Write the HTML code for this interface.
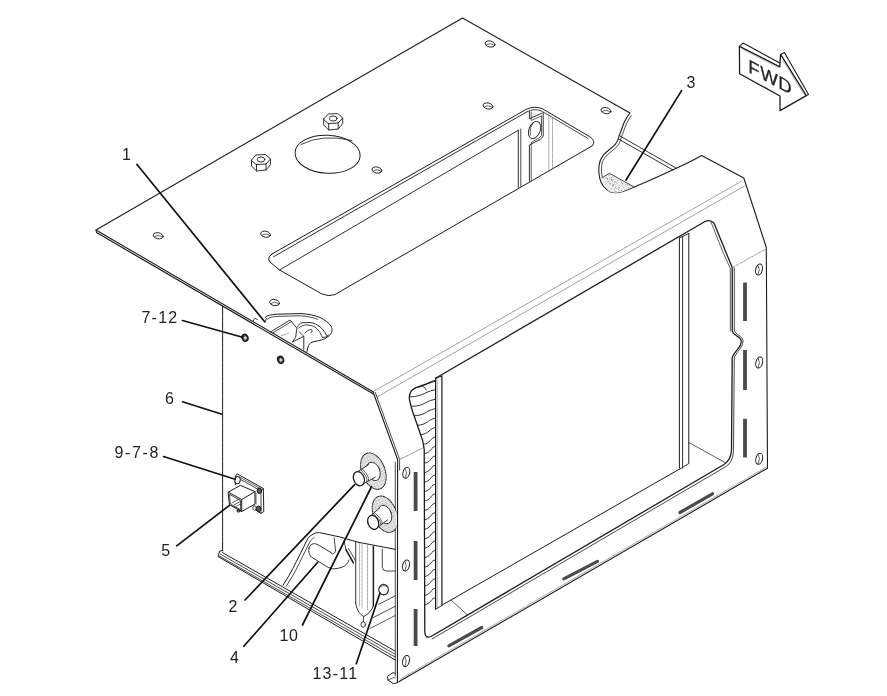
<!DOCTYPE html>
<html><head><meta charset="utf-8"><title>Parts diagram</title>
<style>
html,body{margin:0;padding:0;background:#fff;}
body{width:887px;height:696px;overflow:hidden;}
svg{display:block;filter:grayscale(1);}
svg text{font-family:"Liberation Sans",sans-serif;fill:#222;}
svg path,svg ellipse{stroke-linecap:round;stroke-linejoin:round;}
</style></head><body>
<svg width="887" height="696" viewBox="0 0 887 696">
<rect width="887" height="696" fill="#fff"/>
<path d="M373,391.7 L96,230 L462.5,18 L630,113 C627,117 625.5,119.5 624.2,122.2 C622,128 620.5,132 619,136.3 C618,140 617,142.5 615.3,144.4 C612,148 607,151 603.5,154.8 C601,158 599.5,161 599.1,165.1 C598.5,170 598.8,174 599.8,178.4 C601,184 605,189 610.2,191.8" stroke="#1c1c1c" stroke-width="1.1" fill="#fff" />
<path d="M96.5,232.5 L373.5,394.1" stroke="#1c1c1c" stroke-width="1.2" fill="none" />
<path d="M96.0,230.0 L96.5,232.5" stroke="#1c1c1c" stroke-width="1.0" fill="none" />
<path d="M631.3,115.5 C629,119 627.5,121.5 626.3,124 C624.3,129.5 622.8,133.5 621.3,137.5 C620.3,141 619.3,143.8 617.5,146 C614.5,149.5 609.5,152.5 606,156.2 C603.5,159 602,162 601.7,165.6 C601.2,170 601.5,173.5 602.3,177" stroke="#1c1c1c" stroke-width="0.8" fill="none" />
<ellipse cx="158.2" cy="235.8" rx="5.0" ry="3.0" transform="rotate(12 158.2 235.8)" stroke="#1c1c1c" stroke-width="0.9" fill="none"/>
<path d="M154.39999999999998,236.8 Q158.2,234.0 162.39999999999998,237.20000000000002" stroke="#1c1c1c" stroke-width="0.7" fill="none" />
<ellipse cx="265.6" cy="234.2" rx="5.0" ry="3.0" transform="rotate(12 265.6 234.2)" stroke="#1c1c1c" stroke-width="0.9" fill="none"/>
<path d="M261.8,235.2 Q265.6,232.39999999999998 269.8,235.6" stroke="#1c1c1c" stroke-width="0.7" fill="none" />
<ellipse cx="274.6" cy="302.6" rx="5.0" ry="3.0" transform="rotate(12 274.6 302.6)" stroke="#1c1c1c" stroke-width="0.9" fill="none"/>
<path d="M270.8,303.6 Q274.6,300.8 278.8,304.0" stroke="#1c1c1c" stroke-width="0.7" fill="none" />
<ellipse cx="376.9" cy="170" rx="5.0" ry="3.0" transform="rotate(12 376.9 170)" stroke="#1c1c1c" stroke-width="0.9" fill="none"/>
<path d="M373.09999999999997,171.0 Q376.9,168.2 381.09999999999997,171.4" stroke="#1c1c1c" stroke-width="0.7" fill="none" />
<ellipse cx="488" cy="106" rx="5.0" ry="3.0" transform="rotate(12 488 106)" stroke="#1c1c1c" stroke-width="0.9" fill="none"/>
<path d="M484.2,107.0 Q488,104.2 492.2,107.4" stroke="#1c1c1c" stroke-width="0.7" fill="none" />
<ellipse cx="490" cy="44" rx="5.0" ry="3.0" transform="rotate(12 490 44)" stroke="#1c1c1c" stroke-width="0.9" fill="none"/>
<path d="M486.2,45.0 Q490,42.2 494.2,45.4" stroke="#1c1c1c" stroke-width="0.7" fill="none" />
<ellipse cx="606" cy="110.6" rx="5.0" ry="3.0" transform="rotate(12 606 110.6)" stroke="#1c1c1c" stroke-width="0.9" fill="none"/>
<path d="M602.2,111.6 Q606,108.8 610.2,112.0" stroke="#1c1c1c" stroke-width="0.7" fill="none" />
<ellipse cx="327.6" cy="154.3" rx="32.6" ry="19.0" transform="rotate(3 327.6 154.3)" stroke="#1c1c1c" stroke-width="1.0" fill="none"/>
<path d="M301,144.5 Q322,133.5 352,140.5" stroke="#1c1c1c" stroke-width="0.8" fill="none" />
<path d="M251.5,160.0 L256.0,155.0 L265.5,154.5 L270.5,159.0 L266.0,164.0 L256.5,164.5 Z" stroke="#1c1c1c" stroke-width="0.9" fill="#fff" />
<path d="M251.5,160.0 L251.5,166.0 L256.5,171.0 L266.0,170.0 L270.5,164.5 L270.5,159.0" stroke="#1c1c1c" stroke-width="0.9" fill="none" />
<path d="M256.5,164.5 L256.5,171.0" stroke="#1c1c1c" stroke-width="0.9" fill="none" />
<path d="M266.0,164.0 L266.0,170.0" stroke="#1c1c1c" stroke-width="0.9" fill="none" />
<ellipse cx="261" cy="159.5" rx="3.8" ry="2.6" transform="rotate(0 261 159.5)" stroke="#1c1c1c" stroke-width="0.9" fill="none"/>
<path d="M323.7,119.0 L328.2,114.0 L337.7,113.5 L342.7,118.0 L338.2,123.0 L328.7,123.5 Z" stroke="#1c1c1c" stroke-width="0.9" fill="#fff" />
<path d="M323.7,119.0 L323.7,125.0 L328.7,130.0 L338.2,129.0 L342.7,123.5 L342.7,118.0" stroke="#1c1c1c" stroke-width="0.9" fill="none" />
<path d="M328.7,123.5 L328.7,130.0" stroke="#1c1c1c" stroke-width="0.9" fill="none" />
<path d="M338.2,123.0 L338.2,129.0" stroke="#1c1c1c" stroke-width="0.9" fill="none" />
<ellipse cx="333.2" cy="118.5" rx="3.8" ry="2.6" transform="rotate(0 333.2 118.5)" stroke="#1c1c1c" stroke-width="0.9" fill="none"/>
<path d="M272,254 L526.5,109.2 Q534,105.5 542.5,108.8 L590,136.9 Q596.5,141.5 592,146 L335,294.5 Q329,297 322,294 L279.5,270 L270,262 Q266.5,258 272,254 Z" stroke="#1c1c1c" stroke-width="1.0" fill="none" />
<path d="M273.5,256.8 L527.0,111.8" stroke="#1c1c1c" stroke-width="0.9" fill="none" />
<path d="M527,111.8 Q534,108 541.5,111 L588,138.5" stroke="#1c1c1c" stroke-width="0.8" fill="none" />
<path d="M279.5,270.0 L518.3,130.2" stroke="#1c1c1c" stroke-width="0.9" fill="none" />
<path d="M518.3,130.2 L518.3,187.6" stroke="#1c1c1c" stroke-width="0.9" fill="none" />
<path d="M520.8,129.0 L520.8,186.2" stroke="#1c1c1c" stroke-width="0.8" fill="none" />
<path d="M529.4,111.5 L529.4,118.8 L541.9,113.2" stroke="#1c1c1c" stroke-width="0.9" fill="none" />
<path d="M531.2,112.0 L531.2,120.5 L541.5,116.0" stroke="#1c1c1c" stroke-width="0.7" fill="none" />
<path d="M543.2,112.5 L543.2,136.5 L540.0,139.5 L529.4,145.0 L529.4,181.3" stroke="#1c1c1c" stroke-width="0.9" fill="none" />
<path d="M541.5,116.0 L541.5,135.5 L539.0,138.0 L531.2,142.5 L531.2,180.2" stroke="#1c1c1c" stroke-width="0.7" fill="none" />
<ellipse cx="534.6" cy="130" rx="5.6" ry="9" transform="rotate(22 534.6 130)" stroke="#1c1c1c" stroke-width="0.9" fill="none"/>
<path d="M530.5,135 Q529,128 533,123" stroke="#1c1c1c" stroke-width="0.7" fill="none" />
<path d="M548.8,116.0 L548.8,171.0" stroke="#8a8a8a" stroke-width="0.7" fill="none" stroke-dasharray="2.5 1"/>
<path d="M552.5,118.0 L552.5,169.0" stroke="#8a8a8a" stroke-width="0.7" fill="none" stroke-dasharray="2.5 1"/>
<path d="M620.0,136.0 L676.0,168.0" stroke="#1c1c1c" stroke-width="0.9" fill="none" />
<path d="M618.5,139.0 L673.0,170.0" stroke="#1c1c1c" stroke-width="0.9" fill="none" />
<path d="M610.2,191.8 C614,193.2 618,193 622,191.8 C626,190.6 630,188.8 633.8,187.3 C648,181.5 662,175 676.8,168.1 C686,163.8 694,160 701.6,155.5 L743.8,178 L766.3,247.5 L767.5,468.2 L398.8,681.8" stroke="#1c1c1c" stroke-width="1.1" fill="none" />
<path d="M602,177.7 L609.4,173.3 L633.8,186.8 L622,191.8 Q616,193.4 610.2,192 Q604,188 602,177.7 Z" fill="#ededed" stroke="none"/>
<clipPath id="stc"><path d="M602.6,178.3 L609.4,174 L632.5,186.8 L622,191 Q616,192.6 610.6,191.2 Q605,188 602.6,178.3 Z"/></clipPath><g clip-path="url(#stc)">
<circle cx="609.4" cy="183.9" r="0.45" fill="#666"/>
<circle cx="613.5" cy="185.1" r="0.45" fill="#666"/>
<circle cx="621.4" cy="174.3" r="0.45" fill="#666"/>
<circle cx="602.4" cy="189.7" r="0.45" fill="#666"/>
<circle cx="610.0" cy="177.7" r="0.45" fill="#666"/>
<circle cx="632.9" cy="182.4" r="0.45" fill="#666"/>
<circle cx="627.9" cy="182.5" r="0.45" fill="#666"/>
<circle cx="621.8" cy="176.0" r="0.45" fill="#666"/>
<circle cx="621.7" cy="190.4" r="0.45" fill="#666"/>
<circle cx="618.2" cy="187.8" r="0.45" fill="#666"/>
<circle cx="622.8" cy="174.3" r="0.45" fill="#666"/>
<circle cx="625.5" cy="184.8" r="0.45" fill="#666"/>
<circle cx="611.3" cy="173.6" r="0.45" fill="#666"/>
<circle cx="628.8" cy="182.5" r="0.45" fill="#666"/>
<circle cx="624.3" cy="190.6" r="0.45" fill="#666"/>
<circle cx="624.1" cy="191.4" r="0.45" fill="#666"/>
<circle cx="614.2" cy="189.0" r="0.45" fill="#666"/>
<circle cx="615.8" cy="191.7" r="0.45" fill="#666"/>
<circle cx="629.2" cy="174.9" r="0.45" fill="#666"/>
<circle cx="606.2" cy="177.3" r="0.45" fill="#666"/>
<circle cx="631.9" cy="181.7" r="0.45" fill="#666"/>
<circle cx="621.4" cy="179.0" r="0.45" fill="#666"/>
<circle cx="617.7" cy="180.7" r="0.45" fill="#666"/>
<circle cx="612.9" cy="184.7" r="0.45" fill="#666"/>
<circle cx="620.1" cy="191.1" r="0.45" fill="#666"/>
<circle cx="623.1" cy="191.6" r="0.45" fill="#666"/>
<circle cx="628.5" cy="192.8" r="0.45" fill="#666"/>
<circle cx="622.8" cy="176.3" r="0.45" fill="#666"/>
<circle cx="628.7" cy="192.3" r="0.45" fill="#666"/>
<circle cx="630.0" cy="184.4" r="0.45" fill="#666"/>
<circle cx="624.1" cy="177.2" r="0.45" fill="#666"/>
<circle cx="627.8" cy="184.5" r="0.45" fill="#666"/>
<circle cx="610.8" cy="174.3" r="0.45" fill="#666"/>
<circle cx="628.5" cy="192.8" r="0.45" fill="#666"/>
<circle cx="604.7" cy="189.0" r="0.45" fill="#666"/>
<circle cx="614.7" cy="176.0" r="0.45" fill="#666"/>
<circle cx="611.1" cy="188.4" r="0.45" fill="#666"/>
<circle cx="629.1" cy="173.9" r="0.45" fill="#666"/>
<circle cx="621.1" cy="173.9" r="0.45" fill="#666"/>
<circle cx="624.3" cy="179.6" r="0.45" fill="#666"/>
<circle cx="629.3" cy="192.6" r="0.45" fill="#666"/>
<circle cx="617.7" cy="193.0" r="0.45" fill="#666"/>
<circle cx="611.6" cy="174.5" r="0.45" fill="#666"/>
<circle cx="620.6" cy="173.6" r="0.45" fill="#666"/>
<circle cx="608.1" cy="181.2" r="0.45" fill="#666"/>
<circle cx="620.9" cy="176.1" r="0.45" fill="#666"/>
<circle cx="603.3" cy="190.4" r="0.45" fill="#666"/>
<circle cx="611.7" cy="192.2" r="0.45" fill="#666"/>
<circle cx="629.8" cy="180.6" r="0.45" fill="#666"/>
<circle cx="616.3" cy="183.4" r="0.45" fill="#666"/>
<circle cx="622.0" cy="184.9" r="0.45" fill="#666"/>
<circle cx="619.3" cy="185.4" r="0.45" fill="#666"/>
<circle cx="631.2" cy="183.1" r="0.45" fill="#666"/>
<circle cx="615.4" cy="187.4" r="0.45" fill="#666"/>
<circle cx="609.4" cy="179.0" r="0.45" fill="#666"/>
<circle cx="632.3" cy="183.4" r="0.45" fill="#666"/>
<circle cx="619.0" cy="173.2" r="0.45" fill="#666"/>
<circle cx="614.9" cy="184.6" r="0.45" fill="#666"/>
<circle cx="602.6" cy="185.3" r="0.45" fill="#666"/>
<circle cx="621.6" cy="174.2" r="0.45" fill="#666"/>
<circle cx="621.4" cy="182.3" r="0.45" fill="#666"/>
<circle cx="623.1" cy="180.1" r="0.45" fill="#666"/>
<circle cx="623.9" cy="187.8" r="0.45" fill="#666"/>
<circle cx="602.7" cy="174.2" r="0.45" fill="#666"/>
<circle cx="623.0" cy="192.3" r="0.45" fill="#666"/>
<circle cx="609.8" cy="182.1" r="0.45" fill="#666"/>
<circle cx="620.4" cy="179.4" r="0.45" fill="#666"/>
<circle cx="613.3" cy="179.3" r="0.45" fill="#666"/>
<circle cx="613.4" cy="184.9" r="0.45" fill="#666"/>
<circle cx="611.3" cy="180.5" r="0.45" fill="#666"/>
<circle cx="625.9" cy="173.5" r="0.45" fill="#666"/>
<circle cx="619.6" cy="187.7" r="0.45" fill="#666"/>
<circle cx="611.6" cy="177.5" r="0.45" fill="#666"/>
<circle cx="626.9" cy="177.8" r="0.45" fill="#666"/>
<circle cx="607.8" cy="181.7" r="0.45" fill="#666"/>
<circle cx="623.6" cy="175.0" r="0.45" fill="#666"/>
<circle cx="612.0" cy="179.7" r="0.45" fill="#666"/>
<circle cx="627.8" cy="181.8" r="0.45" fill="#666"/>
<circle cx="628.5" cy="176.4" r="0.45" fill="#666"/>
<circle cx="612.4" cy="186.0" r="0.45" fill="#666"/>
<circle cx="629.4" cy="182.0" r="0.45" fill="#666"/>
<circle cx="609.0" cy="175.4" r="0.45" fill="#666"/>
<circle cx="618.4" cy="176.8" r="0.45" fill="#666"/>
<circle cx="627.0" cy="189.8" r="0.45" fill="#666"/>
<circle cx="607.7" cy="178.6" r="0.45" fill="#666"/>
<circle cx="627.0" cy="185.8" r="0.45" fill="#666"/>
<circle cx="627.0" cy="179.9" r="0.45" fill="#666"/>
<circle cx="606.0" cy="178.8" r="0.45" fill="#666"/>
<circle cx="626.6" cy="178.4" r="0.45" fill="#666"/>
<circle cx="612.7" cy="181.3" r="0.45" fill="#666"/>
<circle cx="615.0" cy="181.2" r="0.45" fill="#666"/>
<circle cx="630.5" cy="176.1" r="0.45" fill="#666"/>
<circle cx="602.1" cy="191.9" r="0.45" fill="#666"/>
<circle cx="629.3" cy="192.7" r="0.45" fill="#666"/>
<circle cx="615.5" cy="192.0" r="0.45" fill="#666"/>
<circle cx="630.7" cy="177.4" r="0.45" fill="#666"/>
<circle cx="625.1" cy="189.7" r="0.45" fill="#666"/>
<circle cx="622.6" cy="183.4" r="0.45" fill="#666"/>
<circle cx="611.0" cy="179.8" r="0.45" fill="#666"/>
<circle cx="609.1" cy="174.4" r="0.45" fill="#666"/>
<circle cx="620.2" cy="178.7" r="0.45" fill="#666"/>
<circle cx="627.1" cy="173.9" r="0.45" fill="#666"/>
<circle cx="630.0" cy="186.9" r="0.45" fill="#666"/>
<circle cx="630.6" cy="190.9" r="0.45" fill="#666"/>
<circle cx="629.9" cy="184.5" r="0.45" fill="#666"/>
<circle cx="602.4" cy="187.9" r="0.45" fill="#666"/>
<circle cx="607.3" cy="179.0" r="0.45" fill="#666"/>
<circle cx="622.5" cy="183.5" r="0.45" fill="#666"/>
<circle cx="614.8" cy="191.8" r="0.45" fill="#666"/>
<circle cx="621.0" cy="179.8" r="0.45" fill="#666"/>
<circle cx="609.8" cy="190.2" r="0.45" fill="#666"/>
<circle cx="616.8" cy="188.6" r="0.45" fill="#666"/>
<circle cx="612.9" cy="176.9" r="0.45" fill="#666"/>
<circle cx="618.6" cy="189.3" r="0.45" fill="#666"/>
<circle cx="607.3" cy="188.8" r="0.45" fill="#666"/>
<circle cx="630.6" cy="189.1" r="0.45" fill="#666"/>
<circle cx="627.5" cy="173.2" r="0.45" fill="#666"/>
<circle cx="621.5" cy="190.3" r="0.45" fill="#666"/>
<circle cx="603.5" cy="178.4" r="0.45" fill="#666"/>
<circle cx="610.3" cy="183.5" r="0.45" fill="#666"/>
<circle cx="615.1" cy="182.5" r="0.45" fill="#666"/>
<circle cx="626.1" cy="173.0" r="0.45" fill="#666"/>
<circle cx="603.7" cy="175.5" r="0.45" fill="#666"/>
<circle cx="605.9" cy="174.4" r="0.45" fill="#666"/>
<circle cx="632.2" cy="190.1" r="0.45" fill="#666"/>
<circle cx="604.7" cy="183.0" r="0.45" fill="#666"/>
<circle cx="611.8" cy="179.3" r="0.45" fill="#666"/>
<circle cx="612.9" cy="185.9" r="0.45" fill="#666"/>
<circle cx="620.2" cy="180.2" r="0.45" fill="#666"/>
<circle cx="607.9" cy="179.6" r="0.45" fill="#666"/>
</g>
<path d="M602.0,177.7 L609.4,173.3 L633.8,186.8" stroke="#1c1c1c" stroke-width="0.8" fill="none" />
<path d="M374.0,391.2 L741.0,181.5" stroke="#8a8a8a" stroke-width="0.8" fill="none" />
<path d="M378.0,396.5 L744.5,186.0" stroke="#8a8a8a" stroke-width="0.8" fill="none" />
<path d="M732.5,267.5 L766.3,248.8" stroke="#8a8a8a" stroke-width="0.8" fill="none" stroke-dasharray="3 1.2"/>
<path d="M373.0,391.7 L397.6,459.5 L397.4,682.5" stroke="#1c1c1c" stroke-width="1.1" fill="none" />
<path d="M375.3,392.5 L399.6,459.2 L399.6,470.0" stroke="#1c1c1c" stroke-width="0.8" fill="none" />
<path d="M395.3,462.0 L395.3,676.0" stroke="#1c1c1c" stroke-width="0.8" fill="none" />
<path d="M398.8,460.0 L423.8,447.5" stroke="#8a8a8a" stroke-width="0.8" fill="none" />
<path d="M397.4,682.5 L393.8,683.8 L388.0,680.2 L387.5,676.3 L393.0,672.6 L395.3,673.5" stroke="#1c1c1c" stroke-width="1.0" fill="none" />
<path d="M388.0,680.2 L393.5,677.5 L395.3,678.0" stroke="#1c1c1c" stroke-width="0.7" fill="none" />
<path d="M766.5,467.0 L400.0,679.3" stroke="#8a8a8a" stroke-width="0.7" fill="none" />
<path d="M435.5,378.2 L705,221.5 Q710,219 714,223 L725,250 L732.2,267.5 L732.2,331 C733,336 741,336 741.3,341 C741.5,348 733,352 732.2,358 L731.5,450 Q731,460 724,464.5 L431,636.5 Q425,639 424.8,632 L424.2,449 L422.5,440 L412.5,411.3 C410,403 408.8,399 409.4,396.3 C410,392 411.5,390 413.8,388.8 C420,385.5 428,383.5 435.5,381" stroke="#1c1c1c" stroke-width="1.3" fill="none" />
<path d="M734.3,268 L734.3,330 C735,335 743,336 743,341 C743,348 735,353 734.3,358 L733.5,451 Q733,462 726,466.5 L432,639" stroke="#1c1c1c" stroke-width="0.8" fill="none" />
<path d="M711,222 L722.5,251 L730.3,268.5 L730.3,331" stroke="#1c1c1c" stroke-width="0.7" fill="none" />
<path d="M679.4,238.0 L679.4,468.0" stroke="#1c1c1c" stroke-width="1.0" fill="none" />
<path d="M682.6,236.3 L682.6,468.0" stroke="#1c1c1c" stroke-width="0.9" fill="none" />
<path d="M688.8,233.4 L688.8,463.0" stroke="#1c1c1c" stroke-width="1.0" fill="none" />
<path d="M679.4,238.0 L688.8,233.4" stroke="#1c1c1c" stroke-width="0.9" fill="none" />
<path d="M680.0,469.0 L688.8,463.5" stroke="#1c1c1c" stroke-width="0.9" fill="none" />
<path d="M435.6,378.3 L435.6,609.0" stroke="#1c1c1c" stroke-width="1.2" fill="none" />
<path d="M437.3,379.0 L437.3,608.0" stroke="#8a8a8a" stroke-width="0.6" fill="none" />
<path d="M441.9,376.0 L441.9,605.3" stroke="#1c1c1c" stroke-width="1.2" fill="none" />
<path d="M435.6,378.3 L441.9,376.0" stroke="#1c1c1c" stroke-width="1.0" fill="none" />
<path d="M435.6,609.3 L441.9,605.5" stroke="#1c1c1c" stroke-width="0.9" fill="none" />
<path d="M442.2,605.0 L680.0,468.8" stroke="#1c1c1c" stroke-width="1.0" fill="none" />
<path d="M688.8,442.5 L725.0,462.5" stroke="#1c1c1c" stroke-width="0.7" fill="none" />
<path d="M451.0,600.0 L467.5,615.0" stroke="#1c1c1c" stroke-width="0.7" fill="none" />
<path d="M432.0,631.0 L693.0,481.0" stroke="#1c1c1c" stroke-width="0.0" fill="none" />
<path d="M415.3,387.5 C419.9,387.3 423.9,386.0 426.8,383.9 S433.3,380.7 434.8,380.5" stroke="#1c1c1c" stroke-width="0.9" fill="none" />
<path d="M410.2,396.9 C416.0,396.7 421.0,395.4 424.8,393.3 S433.3,390.1 434.8,389.9" stroke="#1c1c1c" stroke-width="0.9" fill="none" />
<path d="M412.1,406.4 C417.5,406.2 422.1,404.9 425.5,402.8 S433.3,399.6 434.8,399.4" stroke="#1c1c1c" stroke-width="0.9" fill="none" />
<path d="M414.4,415.8 C419.2,415.6 423.4,414.3 426.5,412.2 S433.3,409.0 434.8,408.8" stroke="#1c1c1c" stroke-width="0.9" fill="none" />
<path d="M417.6,425.3 C421.6,425.1 425.1,423.8 427.7,421.7 S433.3,418.5 434.8,418.3" stroke="#1c1c1c" stroke-width="0.9" fill="none" />
<path d="M420.7,434.7 C423.9,434.5 426.8,433.2 429.0,431.1 S433.3,427.9 434.8,427.7" stroke="#1c1c1c" stroke-width="0.9" fill="none" />
<path d="M423.8,444.2 C426.2,444.0 428.5,442.7 430.2,440.6 S433.3,437.4 434.8,437.2" stroke="#1c1c1c" stroke-width="0.9" fill="none" />
<path d="M424.7,453.6 C426.9,453.4 429.0,452.1 430.6,450.0 S433.3,446.8 434.8,446.6" stroke="#1c1c1c" stroke-width="0.9" fill="none" />
<path d="M424.7,463.1 C426.9,462.9 429.0,461.6 430.6,459.5 S433.3,456.3 434.8,456.1" stroke="#1c1c1c" stroke-width="0.9" fill="none" />
<path d="M424.7,472.5 C426.9,472.3 429.0,471.0 430.6,468.9 S433.3,465.7 434.8,465.5" stroke="#1c1c1c" stroke-width="0.9" fill="none" />
<path d="M424.7,482.0 C426.9,481.8 429.0,480.5 430.6,478.4 S433.3,475.2 434.8,475.0" stroke="#1c1c1c" stroke-width="0.9" fill="none" />
<path d="M424.7,491.4 C426.9,491.2 429.0,489.9 430.6,487.8 S433.3,484.6 434.8,484.4" stroke="#1c1c1c" stroke-width="0.9" fill="none" />
<path d="M424.7,500.9 C426.9,500.7 429.0,499.4 430.6,497.2 S433.3,494.1 434.8,493.9" stroke="#1c1c1c" stroke-width="0.9" fill="none" />
<path d="M424.7,510.3 C426.9,510.1 429.0,508.8 430.6,506.7 S433.3,503.5 434.8,503.3" stroke="#1c1c1c" stroke-width="0.9" fill="none" />
<path d="M424.7,519.8 C426.9,519.5 429.0,518.2 430.6,516.1 S433.3,513.0 434.8,512.8" stroke="#1c1c1c" stroke-width="0.9" fill="none" />
<path d="M424.7,529.2 C426.9,529.0 429.0,527.7 430.6,525.6 S433.3,522.4 434.8,522.2" stroke="#1c1c1c" stroke-width="0.9" fill="none" />
<path d="M424.7,538.7 C426.9,538.5 429.0,537.2 430.6,535.1 S433.3,531.9 434.8,531.7" stroke="#1c1c1c" stroke-width="0.9" fill="none" />
<path d="M424.7,548.1 C426.9,547.9 429.0,546.6 430.6,544.5 S433.3,541.3 434.8,541.1" stroke="#1c1c1c" stroke-width="0.9" fill="none" />
<path d="M424.7,557.6 C426.9,557.4 429.0,556.1 430.6,554.0 S433.3,550.8 434.8,550.6" stroke="#1c1c1c" stroke-width="0.9" fill="none" />
<path d="M424.7,567.0 C426.9,566.8 429.0,565.5 430.6,563.4 S433.3,560.2 434.8,560.0" stroke="#1c1c1c" stroke-width="0.9" fill="none" />
<path d="M424.7,576.5 C426.9,576.2 429.0,575.0 430.6,572.9 S433.3,569.7 434.8,569.5" stroke="#1c1c1c" stroke-width="0.9" fill="none" />
<path d="M424.7,585.9 C426.9,585.7 429.0,584.4 430.6,582.3 S433.3,579.1 434.8,578.9" stroke="#1c1c1c" stroke-width="0.9" fill="none" />
<path d="M424.7,595.4 C426.9,595.1 429.0,593.9 430.6,591.8 S433.3,588.6 434.8,588.4" stroke="#1c1c1c" stroke-width="0.9" fill="none" />
<path d="M424.7,604.8 C426.9,604.6 429.0,603.3 430.6,601.2 S433.3,598.0 434.8,597.8" stroke="#1c1c1c" stroke-width="0.9" fill="none" />
<path d="M423.1,386.6 Q425.5,387.5 426.3,390" stroke="#1c1c1c" stroke-width="0.8" fill="none" />
<rect x="743.1" y="282.5" width="3.8" height="38.5" fill="#4a4a4a" stroke="none"/>
<rect x="743.1" y="350" width="3.8" height="40" fill="#4a4a4a" stroke="none"/>
<rect x="743.1" y="418.8" width="3.8" height="38.69999999999999" fill="#4a4a4a" stroke="none"/>
<rect x="413.70000000000005" y="472" width="3.8" height="39" fill="#4a4a4a" stroke="none"/>
<rect x="413.70000000000005" y="541" width="3.8" height="39" fill="#4a4a4a" stroke="none"/>
<rect x="413.70000000000005" y="609" width="3.8" height="37" fill="#4a4a4a" stroke="none"/>
<path d="M680.0,512.5 L712.5,493.8" stroke="#4a4a4a" stroke-width="3.2" fill="none" />
<path d="M563.8,578.8 L597.5,561.3" stroke="#4a4a4a" stroke-width="3.2" fill="none" />
<path d="M448.8,645.8 L481.8,627.5" stroke="#4a4a4a" stroke-width="3.2" fill="none" />
<ellipse cx="759" cy="269.5" rx="3.3" ry="5.6" transform="rotate(14 759 269.5)" stroke="#1c1c1c" stroke-width="1.0" fill="none"/>
<path d="M758.0,265.3 Q760.6,269.5 758.2,274.1" stroke="#1c1c1c" stroke-width="0.7" fill="none" />
<ellipse cx="759.2" cy="362.5" rx="3.3" ry="5.6" transform="rotate(14 759.2 362.5)" stroke="#1c1c1c" stroke-width="1.0" fill="none"/>
<path d="M758.2,358.3 Q760.8000000000001,362.5 758.4000000000001,367.1" stroke="#1c1c1c" stroke-width="0.7" fill="none" />
<ellipse cx="759.2" cy="458.8" rx="3.3" ry="5.6" transform="rotate(14 759.2 458.8)" stroke="#1c1c1c" stroke-width="1.0" fill="none"/>
<path d="M758.2,454.6 Q760.8000000000001,458.8 758.4000000000001,463.40000000000003" stroke="#1c1c1c" stroke-width="0.7" fill="none" />
<ellipse cx="406.3" cy="472.8" rx="3.3" ry="5.6" transform="rotate(14 406.3 472.8)" stroke="#1c1c1c" stroke-width="1.0" fill="none"/>
<path d="M405.3,468.6 Q407.90000000000003,472.8 405.5,477.40000000000003" stroke="#1c1c1c" stroke-width="0.7" fill="none" />
<ellipse cx="406" cy="565.5" rx="3.3" ry="5.6" transform="rotate(14 406 565.5)" stroke="#1c1c1c" stroke-width="1.0" fill="none"/>
<path d="M405.0,561.3 Q407.6,565.5 405.2,570.1" stroke="#1c1c1c" stroke-width="0.7" fill="none" />
<ellipse cx="406" cy="661" rx="3.3" ry="5.6" transform="rotate(14 406 661)" stroke="#1c1c1c" stroke-width="1.0" fill="none"/>
<path d="M405.0,656.8 Q407.6,661 405.2,665.6" stroke="#1c1c1c" stroke-width="0.7" fill="none" />
<path d="M222.6,306.5 L222.6,551.0" stroke="#1c1c1c" stroke-width="1.0" fill="none" stroke-dasharray="4 0.7"/>
<path d="M222.5,550.5 L219.8,551.0 L218.0,556.5 L395.3,660.0" stroke="#1c1c1c" stroke-width="1.0" fill="none" />
<path d="M222.5,552.6 L395.3,651.2" stroke="#1c1c1c" stroke-width="1.0" fill="none" />
<path d="M220.5,554.2 L395.3,654.3" stroke="#1c1c1c" stroke-width="0.8" fill="none" />
<path d="M219.3,556.0 L395.3,657.2" stroke="#1c1c1c" stroke-width="0.8" fill="none" />
<ellipse cx="245" cy="337.8" rx="3.0" ry="3.7" transform="rotate(-20 245 337.8)" stroke="#1c1c1c" stroke-width="1.2" fill="#3a3a3a"/>
<ellipse cx="245.2" cy="338.0" rx="1.1" ry="1.4" transform="rotate(0 245.2 338.0)" stroke="#ddd" stroke-width="0.6" fill="#ddd"/>
<ellipse cx="280.6" cy="359.8" rx="3.0" ry="3.7" transform="rotate(-20 280.6 359.8)" stroke="#1c1c1c" stroke-width="1.2" fill="#3a3a3a"/>
<ellipse cx="280.8" cy="360.0" rx="1.1" ry="1.4" transform="rotate(0 280.8 360.0)" stroke="#ddd" stroke-width="0.6" fill="#ddd"/>
<path d="M265,317.5 C267,315.5 271,314.6 276.3,314.2 L301,313.6 C309,314 315,315.5 320,317.5 C325,320 328.5,322.5 330.2,325 C332.5,328 332.5,331 331,333.5 C329.5,336 326,338.5 321.3,340 C317,341.3 314.5,341.3 312,342.2 C309.5,343.5 308.5,345 308,347 L306.8,352" stroke="#1c1c1c" stroke-width="1.0" fill="none" />
<path d="M267.5,319.2 C270,317.2 273,316.6 277,316.4 L300,315.8 C307,316.2 313,317.5 317.5,319.3" stroke="#1c1c1c" stroke-width="0.8" fill="none" stroke-dasharray="3 0.8"/>
<path d="M253.2,321.0 L254.6,318.2 L257.5,319.5" stroke="#1c1c1c" stroke-width="0.8" fill="none" />
<path d="M265.0,322.5 L266.5,318.5" stroke="#1c1c1c" stroke-width="0.8" fill="none" />
<path d="M270.6,331.9 L290.0,320.0 L296.9,328.1 L295.6,337.5 L292.5,341.9" stroke="#1c1c1c" stroke-width="0.9" fill="none" />
<path d="M273.0,332.8 L291.6,321.5" stroke="#1c1c1c" stroke-width="0.8" fill="none" />
<path d="M292.5,341.9 L303.8,336.3 L303.8,350.0" stroke="#1c1c1c" stroke-width="0.9" fill="none" />
<path d="M298.8,331.5 L303.8,336.3" stroke="#1c1c1c" stroke-width="0.8" fill="none" />
<path d="M281.3,335.6 Q285,335.2 288.8,333.1" stroke="#8a8a8a" stroke-width="0.7" fill="none" />
<path d="M297.5,326.9 C298.5,324.5 300,323 302,322.8 L310,322.5 C314,323 317.5,324.8 320,326.9 C322.5,329 324,331 325,332.5 C326,334.5 326.5,336 327.5,336.3" stroke="#1c1c1c" stroke-width="0.9" fill="none" />
<path d="M298.8,328 C301,326 304,325 306.3,325 C310,325 313,326 315,327 C317.5,329 319,331 320,332.5 C321,335 322,337 322.5,337.5" stroke="#1c1c1c" stroke-width="0.8" fill="none" />
<path d="M305,333.2 C306.5,331 309,329.6 311.3,329.4 C312.5,330 312.5,331.5 311,333" stroke="#1c1c1c" stroke-width="0.8" fill="none" />
<path d="M322.5,337.5 Q326,338 328.5,335" stroke="#1c1c1c" stroke-width="0.8" fill="none" />
<path d="M235.3,484.8 L235.3,476.5 L237.1,473.8 L263.3,488.5 L263.8,511.5 L261.0,513.3 L255.0,509.5" stroke="#1c1c1c" stroke-width="1.0" fill="none" />
<path d="M235.3,476.5 L261.0,491.0 L261.0,513.3" stroke="#1c1c1c" stroke-width="0.8" fill="none" />
<path d="M261.0,491.0 L263.3,488.5" stroke="#1c1c1c" stroke-width="0.8" fill="none" />
<path d="M239.5,477.0 L261.5,489.3" stroke="#1c1c1c" stroke-width="0.7" fill="none" />
<path d="M256.0,493.0 L256.0,504.0" stroke="#1c1c1c" stroke-width="0.7" fill="none" />
<path d="M228.4,492.2 L240.3,485.3 L255.0,491.7 L255.0,504.1 L241.7,511.5 L229.8,505.0 Z" stroke="#1c1c1c" stroke-width="1.0" fill="#fff" />
<path d="M228.4,492.2 L241.7,499.5 L255.0,491.7" stroke="#1c1c1c" stroke-width="1.0" fill="none" />
<path d="M241.7,499.5 L241.7,511.5" stroke="#1c1c1c" stroke-width="1.0" fill="none" />
<path d="M229.8,494.5 L240.6,500.6 L240.6,509.8 L230.6,504.2 Z" stroke="#1c1c1c" stroke-width="0.8" fill="none" />
<path d="M232.0,503.0 L240.0,498.5" stroke="#1c1c1c" stroke-width="0.7" fill="none" />
<path d="M234.0,505.0 L240.5,501.5" stroke="#1c1c1c" stroke-width="0.7" fill="none" />
<path d="M236.0,506.5 L240.5,504.0" stroke="#1c1c1c" stroke-width="0.6" fill="none" />
<ellipse cx="237.6" cy="480.2" rx="2.6" ry="3.6" transform="rotate(10 237.6 480.2)" stroke="#1c1c1c" stroke-width="1.0" fill="#fff"/>
<ellipse cx="259.4" cy="490.8" rx="2.2" ry="2.8" transform="rotate(0 259.4 490.8)" stroke="#1c1c1c" stroke-width="1.0" fill="#555"/>
<ellipse cx="258.6" cy="508.8" rx="2.4" ry="2.8" transform="rotate(0 258.6 508.8)" stroke="#1c1c1c" stroke-width="1.0" fill="#555"/>
<ellipse cx="238.5" cy="510.8" rx="1.6" ry="1.4" transform="rotate(0 238.5 510.8)" stroke="#1c1c1c" stroke-width="0.8" fill="#555"/>
<ellipse cx="254.5" cy="508" rx="1.8" ry="2.2" transform="rotate(0 254.5 508)" stroke="#1c1c1c" stroke-width="0.8" fill="#fff"/>
<defs><pattern id="stip" width="3" height="3" patternUnits="userSpaceOnUse"><rect width="3" height="3" fill="#f0f0f0"/><circle cx="0.8" cy="0.8" r="0.5" fill="#555"/><circle cx="2.3" cy="2.2" r="0.45" fill="#666"/></pattern><clipPath id="clipL"><rect x="0" y="0" width="396.4" height="696"/></clipPath></defs>
<g ><ellipse cx="373.4" cy="471.1" rx="11.6" ry="19" transform="rotate(-21 373.4 471.1)" fill="url(#stip)" stroke="#1c1c1c" stroke-width="0.9" stroke-dasharray="1.6 0.9"/></g>
<ellipse cx="373.4" cy="471.40000000000003" rx="6.4" ry="9.6" transform="rotate(-21 373.4 471.40000000000003)" fill="#fff" stroke="#1c1c1c" stroke-width="0.8"/>
<path d="M368.6,464.6 L355.8,472.9 L362.0,484.5 L375.2,477.2" stroke="#1c1c1c" stroke-width="0" fill="#fff" />
<path d="M368.6,464.6 L355.8,472.9" stroke="#1c1c1c" stroke-width="0.9" fill="none" />
<path d="M362.0,484.5 L375.2,477.2" stroke="#1c1c1c" stroke-width="0.9" fill="none" />
<ellipse cx="358.9" cy="478.7" rx="5.3" ry="7.3" transform="rotate(-21 358.9 478.7)" fill="#fff" stroke="#1c1c1c" stroke-width="1.3"/>
<path d="M360.8,469.9 Q368.3,477.2 366.9,481.6" stroke="#1c1c1c" stroke-width="0.7" fill="none" />
<path d="M362.3,469.0 Q369.9,476.3 368.5,480.6" stroke="#1c1c1c" stroke-width="0.7" fill="none" />
<g clip-path="url(#clipL)"><ellipse cx="385" cy="514.2" rx="11.6" ry="19" transform="rotate(-21 385 514.2)" fill="url(#stip)" stroke="#1c1c1c" stroke-width="0.9" stroke-dasharray="1.6 0.9"/></g>
<ellipse cx="385.0" cy="514.5" rx="6.4" ry="9.6" transform="rotate(-21 385.0 514.5)" fill="#fff" stroke="#1c1c1c" stroke-width="0.8"/>
<path d="M379.4,508.1 L369.4,517.0 L377.0,527.8 L387.6,519.9" stroke="#1c1c1c" stroke-width="0" fill="#fff" />
<path d="M379.4,508.1 L369.4,517.0" stroke="#1c1c1c" stroke-width="0.9" fill="none" />
<path d="M377.0,527.8 L387.6,519.9" stroke="#1c1c1c" stroke-width="0.9" fill="none" />
<ellipse cx="373.2" cy="522.4" rx="5.3" ry="7.3" transform="rotate(-21 373.2 522.4)" fill="#fff" stroke="#1c1c1c" stroke-width="1.3"/>
<path d="M373.3,513.8 Q381.6,520.7 380.9,524.6" stroke="#1c1c1c" stroke-width="0.7" fill="none" />
<path d="M374.6,512.8 Q382.9,519.7 382.1,523.6" stroke="#1c1c1c" stroke-width="0.7" fill="none" />
<path d="M283.1,585.1 L289,575.5 C294,567 299,556 303.9,546.6 C307,539.5 309,536 312,534.8 C314.5,533 317,532.4 319.4,532.6 L340.1,537 L357.9,542.2 L395.3,549.3" stroke="#1c1c1c" stroke-width="1.0" fill="none" />
<path d="M286,586.5 L292,577 C297,568.5 302,557.5 306.8,548 C309.5,542 311.5,538.8 314,537.5" stroke="#1c1c1c" stroke-width="0.8" fill="none" />
<path d="M309,548.1 C309.8,545.5 311.5,544 313.5,543.7 C315,543.5 316.5,544 318,544.8 L331.2,552.6 M309,548.1 C308.2,551 309,554.5 311.3,557 L326.8,566.6 C329.5,568.2 332,568.9 334.2,568.8 C338.5,568.5 342,567.5 344.6,565.9 C347,564 348.5,562 349,560" stroke="#1c1c1c" stroke-width="0.9" fill="none" />
<path d="M331.2,552.6 L332.6,554.2 L335.7,551.8 L334.2,537.8" stroke="#1c1c1c" stroke-width="0.8" fill="none" />
<path d="M346.0,549.6 L353.4,562.9" stroke="#1c1c1c" stroke-width="1.6" fill="none" />
<path d="M348.5,548.5 L355.7,561.0" stroke="#1c1c1c" stroke-width="0.8" fill="none" />
<path d="M344.0,541.0 L346.0,549.6" stroke="#1c1c1c" stroke-width="0.8" fill="none" />
<path d="M355.7,542.2 L355.7,602.9" stroke="#1c1c1c" stroke-width="0.9" fill="none" />
<path d="M359.4,543.5 L359.4,606.0" stroke="#8a8a8a" stroke-width="0.7" fill="none" stroke-dasharray="3 1"/>
<path d="M362.0,544.0 L362.0,608.0" stroke="#8a8a8a" stroke-width="0.6" fill="none" />
<path d="M367.5,545.0 L367.5,610.0" stroke="#8a8a8a" stroke-width="0.7" fill="none" stroke-dasharray="3 1"/>
<path d="M373.4,546.6 L373.4,605.8" stroke="#1c1c1c" stroke-width="1.5" fill="none" />
<path d="M355.7,602.9 C356.5,609 359,614 363.8,616.5 C368,614.5 372,610.5 373.4,605.8" stroke="#1c1c1c" stroke-width="0.9" fill="none" />
<ellipse cx="363.2" cy="624.5" rx="2.2" ry="2.8" transform="rotate(0 363.2 624.5)" stroke="#1c1c1c" stroke-width="0.9" fill="none"/>
<path d="M363.6,616.8 L363.3,621.6" stroke="#1c1c1c" stroke-width="0.8" fill="none" />
<ellipse cx="383.6" cy="589.6" rx="4.8" ry="5.3" transform="rotate(0 383.6 589.6)" stroke="#1c1c1c" stroke-width="1.1" fill="none"/>
<path d="M380.2,586.8 Q383.2,584.4 386.8,586.2" stroke="#1c1c1c" stroke-width="0.7" fill="none" />
<path d="M382.3,549 L382.3,567 Q382.6,571 386.5,571 L395.3,571" stroke="#1c1c1c" stroke-width="0.8" fill="none" />
<path d="M378.6,604.4 L395.3,595.8" stroke="#1c1c1c" stroke-width="0.8" fill="none" />
<path d="M373.4,617.5 L395.3,606.2" stroke="#1c1c1c" stroke-width="0.8" fill="none" />
<path d="M370.0,628.5 L395.3,615.5" stroke="#1c1c1c" stroke-width="0.7" fill="none" />
<path d="M739.4,46.3 L779.8,66.9 L780.6,54.4 L806.3,95.6 L780.0,110.6 L780.0,96.0 L739.6,73.7 Z" stroke="#1c1c1c" stroke-width="1.3" fill="#fff" />
<path d="M739.4,46.3 L743.1,43.1 L779.8,63.0" stroke="#1c1c1c" stroke-width="1.1" fill="none" />
<path d="M780.6,54.4 L784.4,52.6 L808.5,94.6 L806.3,95.6" stroke="#1c1c1c" stroke-width="1.1" fill="none" />
<path d="M742.0,49.0 L778.0,67.5" stroke="#8a8a8a" stroke-width="0.6" fill="none" />
<path d="M783.0,60.5 L804.5,95.0" stroke="#8a8a8a" stroke-width="0.6" fill="none" />
<text transform="matrix(1,0.53,0,1,748.2,72.0)" x="0" y="0" font-size="18.6" letter-spacing="0.6" fill="#1c1c1c" stroke="#1c1c1c" stroke-width="0.25">FWD</text>
<path d="M137.0,164.5 L264.5,321.5" stroke="#111" stroke-width="1.7" fill="none" />
<path d="M681.6,90.6 L626.0,180.0" stroke="#111" stroke-width="1.7" fill="none" />
<path d="M182.5,320.5 L242.5,337.3" stroke="#111" stroke-width="1.7" fill="none" />
<path d="M182.5,401.8 L222.0,414.3" stroke="#111" stroke-width="1.7" fill="none" />
<path d="M163.5,456.5 L235.1,479.3" stroke="#111" stroke-width="1.7" fill="none" />
<path d="M176.7,545.8 L229.5,505.3" stroke="#111" stroke-width="1.7" fill="none" />
<path d="M245.0,600.0 L354.6,484.6" stroke="#111" stroke-width="1.7" fill="none" />
<path d="M243.8,646.3 L317.5,562.5" stroke="#111" stroke-width="1.7" fill="none" />
<path d="M302.5,625.0 L371.6,486.5" stroke="#111" stroke-width="1.7" fill="none" />
<path d="M356.3,663.8 L380.0,593.0" stroke="#111" stroke-width="1.7" fill="none" />
<text x="122" y="160" font-size="16" letter-spacing="0.6" text-anchor="start" >1</text>
<text x="686.4" y="88.3" font-size="16" letter-spacing="0.6" text-anchor="start" >3</text>
<text x="141.5" y="323" font-size="16" letter-spacing="1.2" text-anchor="start" >7-12</text>
<text x="165" y="404" font-size="16" letter-spacing="0.6" text-anchor="start" >6</text>
<text x="114.5" y="457.5" font-size="16" letter-spacing="1.65" text-anchor="start" >9-7-8</text>
<text x="161.3" y="555.5" font-size="16" letter-spacing="0.6" text-anchor="start" >5</text>
<text x="228.5" y="612.2" font-size="16" letter-spacing="0.6" text-anchor="start" >2</text>
<text x="230" y="663.3" font-size="16" letter-spacing="0.6" text-anchor="start" >4</text>
<text x="279.5" y="641" font-size="16" letter-spacing="0.6" text-anchor="start" >10</text>
<text x="312.5" y="679" font-size="16" letter-spacing="1.2" text-anchor="start" >13-11</text>
</svg>
</body></html>
